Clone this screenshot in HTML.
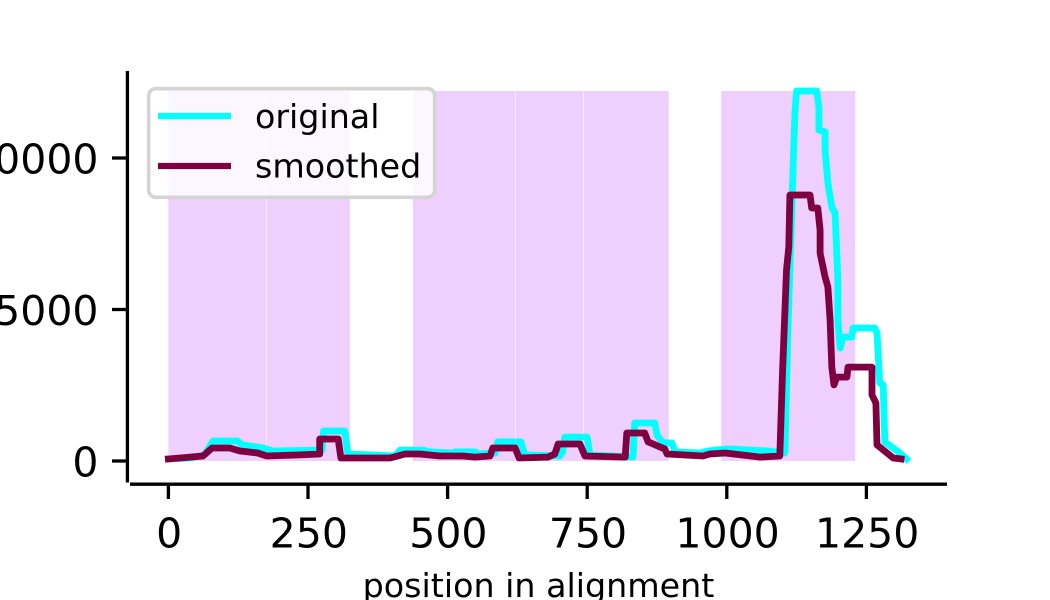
<!DOCTYPE html>
<html>
<head>
<meta charset="utf-8">
<title>Coverage chart</title>
<style>
html,body{margin:0;padding:0;background:#fff;}
body{width:1050px;height:600px;overflow:hidden;}
svg{display:block;font-family:"DejaVu Sans",sans-serif;}
</style>
</head>
<body>
<svg id="chart" width="1050" height="600" viewBox="0 0 1050 600" xmlns="http://www.w3.org/2000/svg">
<g id="regions"></g>
<g id="series"></g>
<g id="axes"></g>
<text x="538.5" y="597" font-size="33.3" text-anchor="middle" fill="#000">position in alignment</text>
<g>
<rect x="148.7" y="88.7" width="286" height="108.6" rx="7" ry="7" fill="#fff" fill-opacity="0.8" stroke="#d4d4d4" stroke-width="3.6"/>
<line x1="158" y1="116" x2="231" y2="116" stroke="#00ffff" stroke-width="6.2"/>
<text x="255" y="128" font-size="33.3" fill="#000">original</text>
<line x1="158" y1="166" x2="231" y2="166" stroke="#7f0040" stroke-width="6.2"/>
<text x="255" y="177.5" font-size="33.3" fill="#000">smoothed</text>
</g>
</svg>
<script>
const xTicks = [0, 250, 500, 750, 1000, 1250];
const yTicks = [0, 5000, 10000];
const regionStarts = [0, 176, 438, 622, 744, 990];
const regionEnds = [175, 325, 621, 743, 896, 1230];
const regionTop = 12210;
const originalX = [0,38,65,80,124,132,169,187,275,278,316,321,325,406,415,456,468,510,513,549,554,585,590,631,638,701,706,710,750,755,832,835,871,875,886,902,907,952,966,1000,1072,1104,1109,1118,1122,1125,1161,1165,1165,1176,1176,1181,1188,1194,1199,1199,1203,1208,1224,1226,1265,1269,1274,1280,1283,1310,1322];
const originalY = [65,100,200,660,660,530,430,330,360,990,990,300,230,165,360,360,300,265,300,300,230,265,630,630,200,165,300,790,790,200,130,1255,1255,860,595,595,300,265,330,400,330,265,4090,9270,11480,12210,12210,11680,10920,10860,10260,9170,8380,8180,5970,4650,3730,4090,4090,4390,4390,4220,2570,2510,630,265,65];
const smoothedX = [0,62,78,110,128,160,176,236,271,271,304,309,397,424,450,486,527,549,576,581,621,628,680,692,698,737,746,818,821,853,859,889,893,957,970,997,1060,1095,1100,1107,1111,1113,1149,1152,1163,1167,1167,1176,1181,1185,1188,1192,1197,1215,1217,1260,1260,1267,1269,1298,1312];
const smoothedY = [65,165,430,430,330,265,165,200,230,725,725,100,100,230,230,165,165,130,165,430,430,100,130,230,560,560,165,130,925,925,630,395,230,165,230,265,130,165,3000,6300,7060,8780,8780,8350,8350,7620,6860,6070,5740,4650,3100,2510,2770,2770,3100,3100,2180,1910,530,100,65];

const NS = 'http://www.w3.org/2000/svg';
const sx = v => 168.4 + v * 0.5584;
const sy = v => 461 - v * 0.0303;

function make(parent, tag, attrs, text) {
  const el = document.createElementNS(NS, tag);
  for (const k in attrs) el.setAttribute(k, attrs[k]);
  if (text !== undefined) el.textContent = text;
  parent.appendChild(el);
  return el;
}

const regions = document.getElementById('regions');
regionStarts.forEach((start, i) => {
  const r = make(regions, 'rect', {
    x: sx(start), y: sy(regionTop),
    width: sx(regionEnds[i]) - sx(start),
    height: sy(0) - sy(regionTop),
    fill: '#eecffd'
  });
  
  
});

const series = document.getElementById('series');
function drawLine(xs, ys, color, name) {
  const pts = xs.map((x, i) => sx(x).toFixed(1) + ',' + sy(ys[i]).toFixed(1)).join(' ');
  const l = make(series, 'polyline', {
    points: pts, fill: 'none', stroke: color,
    'stroke-width': 6.8, 'stroke-linejoin': 'round', 'stroke-linecap': 'square'
  });
  
  
}
drawLine(originalX, originalY, '#00ffff', 'line-original');
drawLine(smoothedX, smoothedY, '#7f0040', 'line-smoothed');

const axes = document.getElementById('axes');
const spineL = make(axes, 'line', {x1: 127.4, y1: 71, x2: 127.4, y2: 482.5, stroke: '#000', 'stroke-width': 3.3});


const spineB = make(axes, 'line', {x1: 130, y1: 484.2, x2: 947, y2: 484.2, stroke: '#000', 'stroke-width': 3.3});



xTicks.forEach(t => {
  const tick = make(axes, 'line', {x1: sx(t), y1: 484, x2: sx(t), y2: 499, stroke: '#000', 'stroke-width': 3.3});
  
  
  const label = make(axes, 'text', {x: sx(t) + 0.8, y: 547.5, 'font-size': 41, 'text-anchor': 'middle', fill: '#000'}, String(t));
  
  
});
yTicks.forEach(t => {
  const tick = make(axes, 'line', {x1: 112, y1: sy(t), x2: 127, y2: sy(t), stroke: '#000', 'stroke-width': 3.3});
  
  
  const label = make(axes, 'text', {x: 98.5, y: sy(t) + 15.5, 'font-size': 41, 'text-anchor': 'end', fill: '#000'}, String(t));
  
  
});
</script>
</body>
</html>
